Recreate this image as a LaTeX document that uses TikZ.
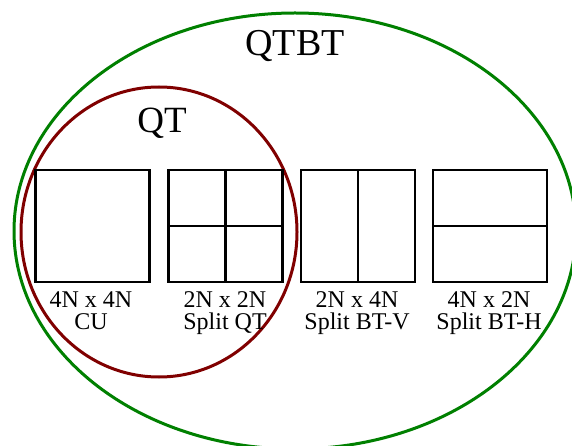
\documentclass[tikz,border=0pt]{standalone}
\usepackage{fontspec}
\setmainfont{Liberation Serif}
\begin{document}
\begin{tikzpicture}[x=1pt,y=-1pt,
  cell/.style={draw=black,line width=2.4pt,minimum width=114pt,minimum height=112pt,inner sep=0pt,outer sep=0pt},
  divline/.style={draw=black,line width=2.4pt},
  lbl/.style={anchor=base,inner sep=0pt,font=\fontsize{24}{24}\selectfont},
  title/.style={anchor=base,inner sep=0pt}]
\clip (0,0) rectangle (572,446);
\fill[white] (0,0) rectangle (572,446);
% outer QTBT ellipse
\draw[line width=3pt,draw={rgb,255:red,0;green,128;blue,0}] (295,231) ellipse [x radius=281, y radius=218];
% inner QT ellipse
\draw[line width=3pt,draw={rgb,255:red,128;green,0;blue,0}] (159,232) ellipse [x radius=138, y radius=145];
% titles
\node[title,font=\fontsize{38}{38}\selectfont] (tqtbt) at (295,56) {QTBT};
\node[title,font=\fontsize{37}{37}\selectfont] (tqt) at (162,133) {QT};
% blocks
\node[cell] (b1) at (92.5,226) {};
\node[cell] (b2) at (225.3,226) {};
\node[cell] (b3) at (357.9,226) {};
\node[cell] (b4) at (490,226) {};
\draw[divline] (b2.north) -- (b2.south);
\draw[divline] (b2.west) -- (b2.east);
\draw[divline] (b3.north) -- (b3.south);
\draw[divline] (b4.west) -- (b4.east);
% labels
\node[lbl] (l1a) at (91,307) {4N x 4N};
\node[lbl] (l1b) at (91,329) {CU};
\node[lbl] (l2a) at (225,307) {2N x 2N};
\node[lbl] (l2b) at (225,329) {Split QT};
\node[lbl] (l3a) at (357,307) {2N x 4N};
\node[lbl] (l3b) at (357,329) {Split BT-V};
\node[lbl] (l4a) at (489,307) {4N x 2N};
\node[lbl] (l4b) at (489,329) {Split BT-H};
\end{tikzpicture}
\end{document}
